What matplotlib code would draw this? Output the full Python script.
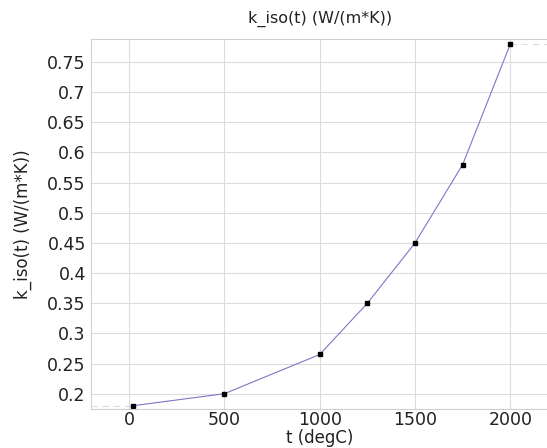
import matplotlib
matplotlib.use("Agg")
import matplotlib.pyplot as plt

t = [20, 500, 1000, 1250, 1500, 1750, 2000]
k_iso = [0.18, 0.20, 0.265, 0.35, 0.45, 0.58, 0.78]
yticks = [0.2, 0.25, 0.3, 0.35, 0.4, 0.45, 0.5, 0.55, 0.6, 0.65, 0.7, 0.75]
xticks = [0, 500, 1000, 1500, 2000]

fig = plt.figure(figsize=(5.47, 4.48), dpi=100)
ax = fig.add_axes([0.167, 0.088, 0.835, 0.824])

xmin, xmax = -198, 2198
ax.set_xlim(xmin, xmax)
ax.set_ylim(0.1753, 0.7875)

# constant extrapolation outside the data range
ax.plot([xmin, t[0]], [k_iso[0], k_iso[0]], ls=(0, (6, 4)), color="#dddddd", lw=0.8)
ax.plot([t[-1], xmax], [k_iso[-1], k_iso[-1]], ls=(0, (6, 4)), color="#dddddd", lw=0.8)

ax.plot(t, k_iso, color="#7b78c8", lw=0.8)
ax.plot(t, k_iso, ls="none", marker="s", ms=2.2, color="black")

ax.set_xticks(xticks)
ax.set_yticks(yticks)
ax.set_yticklabels([f"{v:g}" for v in yticks])
ax.grid(True, color="#dcdcdc", lw=0.8)
ax.set_axisbelow(True)
ax.tick_params(length=0, pad=4, labelsize=12.5, colors="#222222")
ax.tick_params(axis="x", pad=2)
for s in ax.spines.values():
    s.set_color("#d0d0d0")
    s.set_linewidth(0.8)

ax.set_title("k_iso(t) (W/(m*K))", fontsize=11.5, pad=12, color="#222222")
ax.set_xlabel("t (degC)", fontsize=12, labelpad=0, color="#222222")
ax.set_ylabel("k_iso(t) (W/(m*K))", fontsize=12, labelpad=11, color="#222222")

fig.savefig("out.png", dpi=100)
